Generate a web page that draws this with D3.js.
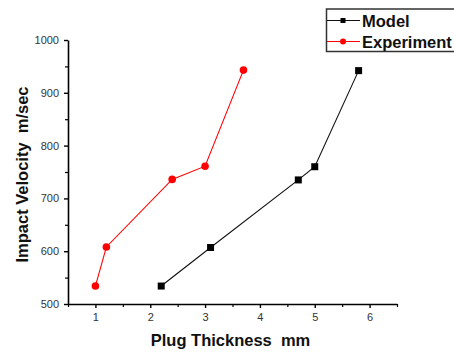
<!DOCTYPE html>
<html>
<head>
<meta charset="utf-8">
<script src="https://cdn.jsdelivr.net/npm/d3@7"></script>
<style>
  body { margin: 0; background: #fff; }
  text { font-family: Arial, "Liberation Sans", sans-serif; }
</style>
</head>
<body>
<svg id="grafico"></svg>
<script>
// valores
const seriesNomes = ['Model', 'Experiment'];
const modelX = [2.2, 3.1, 4.7, 5.0, 5.8];
const modelY = [534, 607, 735, 760, 942];
const expX = [1.0, 1.2, 2.4, 3.0, 3.7];
const expY = [534, 608, 736, 761, 943];
const xTicks = [1, 2, 3, 4, 5, 6];
const yTicks = [500, 600, 700, 800, 900, 1000];

let largura = 454, altura = 353;
let svg = d3.select('#grafico')
            .attr('width', largura)
            .attr('height', altura);

let esq = 68, topo = 40, dir = 397, base = 304;

let fnX = d3.scaleLinear().domain([0.5, 6.5]).range([esq, dir]);
let fnY = d3.scaleLinear().domain([500, 1000]).range([base, topo]);

// eixos menores (sem rotulos)
let minX = d3.range(0.5, 6.51, 0.5).filter(v => v % 1 !== 0);
let minY = d3.range(550, 1000, 100);

svg.append('g')
   .attr('transform', 'translate(0,' + base + ')')
   .call(d3.axisBottom(fnX).tickValues(minX).tickSize(3).tickFormat(''))
   .call(g => g.select('.domain').remove())
   .selectAll('line').attr('stroke-width', 1.2);

svg.append('g')
   .attr('transform', 'translate(' + esq + ',0)')
   .call(d3.axisLeft(fnY).tickValues(minY).tickSize(3).tickFormat(''))
   .call(g => g.select('.domain').remove())
   .selectAll('line').attr('stroke-width', 1.2);

let eixoX = svg.append('g')
   .attr('transform', 'translate(0,' + base + ')')
   .call(d3.axisBottom(fnX).tickValues(xTicks).tickFormat(d3.format('d'))
         .tickSize(4).tickSizeOuter(0).tickPadding(5));

let eixoY = svg.append('g')
   .attr('transform', 'translate(' + esq + ',0)')
   .call(d3.axisLeft(fnY).tickValues(yTicks).tickFormat(d3.format('d'))
         .tickSize(4).tickSizeOuter(0).tickPadding(5));

[eixoX, eixoY].forEach(e => {
  e.select('.domain').attr('stroke-width', 1.6);
  e.selectAll('.tick line').attr('stroke-width', 1.4);
  e.selectAll('text').attr('font-size', 11).attr('fill', '#333');
});

// linhas e marcadores
let modelo = modelX.map((x, i) => ({x: x, y: modelY[i]}));
let experimento = expX.map((x, i) => ({x: x, y: expY[i]}));

let linha = d3.line().x(d => fnX(d.x)).y(d => fnY(d.y));

svg.append('path').datum(modelo)
   .attr('d', linha).attr('fill', 'none')
   .attr('stroke', '#111').attr('stroke-width', 1.1);

svg.append('path').datum(experimento)
   .attr('d', linha).attr('fill', 'none')
   .attr('stroke', '#ff0000').attr('stroke-width', 1.1);

svg.selectAll('.quadrado')
   .data(modelo).enter()
   .append('rect').classed('quadrado', true)
   .attr('x', d => fnX(d.x) - 3.5)
   .attr('y', d => fnY(d.y) - 3.5)
   .attr('width', 7).attr('height', 7)
   .attr('fill', '#000');

svg.selectAll('.circulo')
   .data(experimento).enter()
   .append('circle').classed('circulo', true)
   .attr('cx', d => fnX(d.x))
   .attr('cy', d => fnY(d.y))
   .attr('r', 3.8)
   .attr('fill', '#ff0000');

// titulos dos eixos
svg.append('text')
   .attr('x', (152 + 309) / 2).attr('y', 346)
   .attr('text-anchor', 'middle')
   .attr('font-size', 16.5).attr('font-weight', 'bold')
   .attr('fill', '#111')
   .style('white-space', 'pre')
   .text('Plug Thickness  mm');

svg.append('text')
   .attr('transform', 'translate(28,' + 174.5 + ') rotate(-90)')
   .attr('text-anchor', 'middle')
   .attr('font-size', 16.5).attr('font-weight', 'bold')
   .attr('fill', '#111')
   .style('white-space', 'pre')
   .text('Impact Velocity  m/sec');

// legenda
let legenda = svg.append('g');
legenda.append('rect')
   .attr('x', 326.5).attr('y', 9)
   .attr('width', 140).attr('height', 42.5)
   .attr('fill', 'none').attr('stroke', '#333').attr('stroke-width', 1.5);

let itens = [
  {nome: seriesNomes[0], cor: '#111', forma: 'q', y: 20.5},
  {nome: seriesNomes[1], cor: '#ff0000', forma: 'c', y: 41.5}
];
itens.forEach(it => {
  legenda.append('line')
     .attr('x1', 327).attr('x2', 360)
     .attr('y1', it.y).attr('y2', it.y)
     .attr('stroke', it.cor).attr('stroke-width', 1.1);
  if (it.forma === 'q') {
    legenda.append('rect')
       .attr('x', 343 - 2.5).attr('y', it.y - 2.5)
       .attr('width', 5).attr('height', 5).attr('fill', '#000');
  } else {
    legenda.append('circle')
       .attr('cx', 343).attr('cy', it.y).attr('r', 3).attr('fill', '#ff0000');
  }
  legenda.append('text')
     .attr('x', 362).attr('y', it.y + 6)
     .attr('font-size', 16.5).attr('font-weight', 'bold')
     .attr('fill', '#111')
     .text(it.nome);
});
</script>
</body>
</html>
